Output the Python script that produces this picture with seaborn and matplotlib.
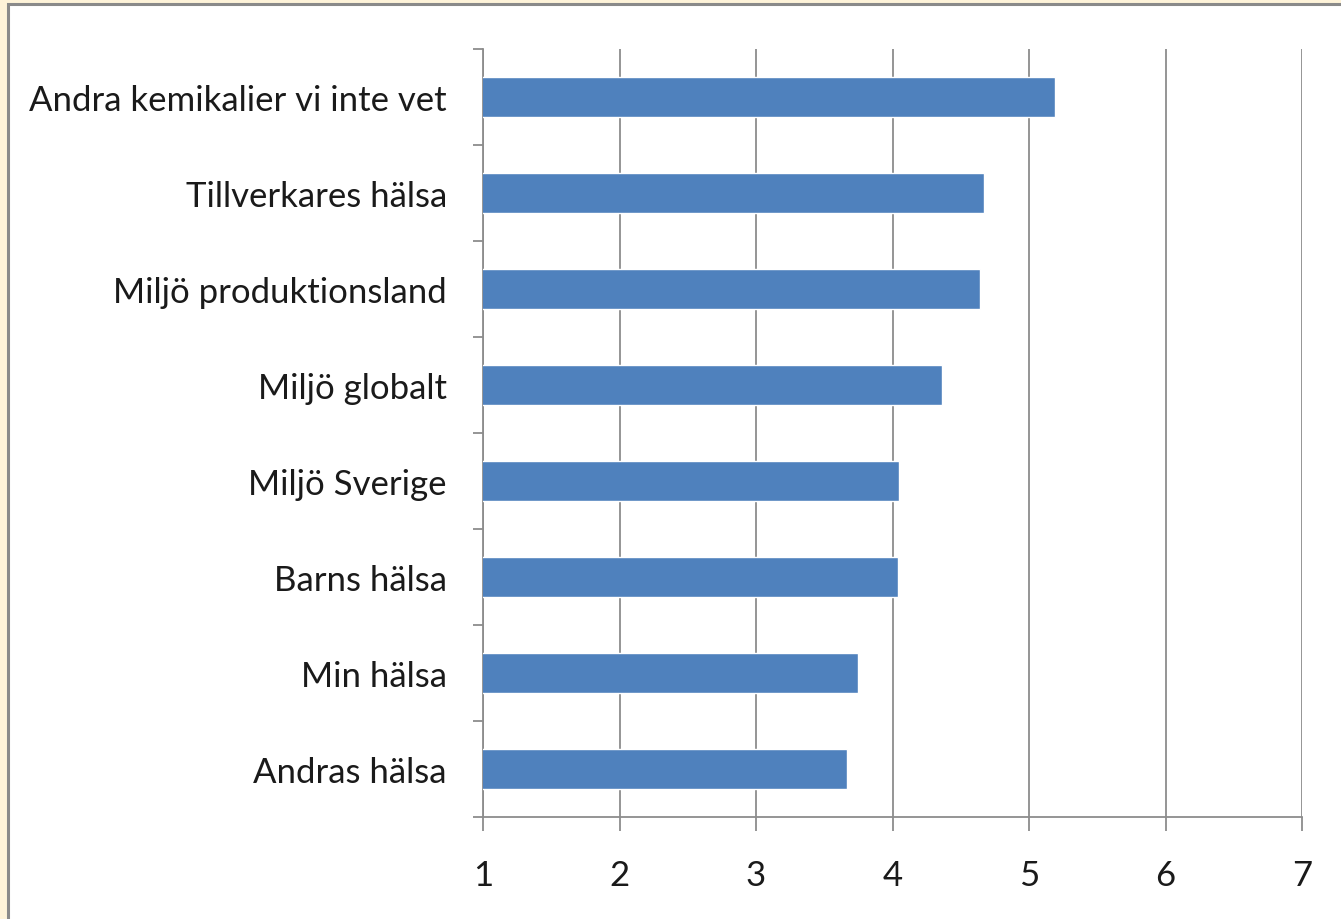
import matplotlib
matplotlib.use("Agg")
import matplotlib.pyplot as plt
import seaborn as sns
import pandas as pd
from matplotlib.patches import Rectangle

categories = ["Andra kemikalier vi inte vet", "Tillverkares hälsa", "Miljö produktionsland",
              "Miljö globalt", "Miljö Sverige", "Barns hälsa", "Min hälsa", "Andras hälsa"]
values = [5.19, 4.67, 4.64, 4.36, 4.05, 4.04, 3.75, 3.67]
xticks = [1, 2, 3, 4, 5, 6, 7]

df = pd.DataFrame({"cat": categories, "val": values})

sns.set_theme(style="white")
plt.rcParams["font.family"] = ["Lato", "DejaVu Sans"]

W, H = 1341, 920
fig = plt.figure(figsize=(W / 100, H / 100), dpi=100)
fig.patch.set_facecolor("#FEF3D9")
border = Rectangle((7.5 / W, -0.1), 1.2, 1.1 - 4.5 / H, transform=fig.transFigure,
                   facecolor="white", edgecolor="#8A8A8A", linewidth=2.2, zorder=-10)
fig.add_artist(border)

ax = fig.add_axes([483 / W, 1 - 818 / H, (1302 - 483) / W, (818 - 50) / H])
ax.set_facecolor("white")
sns.barplot(data=df, x="val", y="cat", color="#4F81BD", saturation=1, width=0.42,
            orient="h", ax=ax, zorder=3)
ax.set_xlim(1, 7)
ax.set_ylim(len(categories) - 0.5, -0.5)
ax.set_xticks(xticks)
ax.set_xticklabels([str(t) for t in xticks], fontsize=25, color="#1A1A1A")
ax.set_xlabel("")
ax.set_ylabel("")
ax.tick_params(axis="y", which="major", length=0, labelsize=25, labelcolor="#1A1A1A", pad=26)
ax.set_yticks([i - 0.5 for i in range(len(categories) + 1)], minor=True)
ax.tick_params(axis="y", which="minor", length=7.5, width=1.3, color="#8C8C8C", direction="out", left=True)
ax.tick_params(axis="x", which="major", length=10, width=1.3, color="#8C8C8C", direction="out",
               bottom=True, pad=20)
ax.grid(axis="x", color="#8C8C8C", linewidth=1.3, zorder=0)
ax.set_axisbelow(True)
for s in ["top", "right"]:
    ax.spines[s].set_visible(False)
for s in ["left", "bottom"]:
    ax.spines[s].set_color("#8C8C8C")
    ax.spines[s].set_linewidth(1.3)

fig.savefig("out.png", dpi=100, facecolor=fig.get_facecolor())
